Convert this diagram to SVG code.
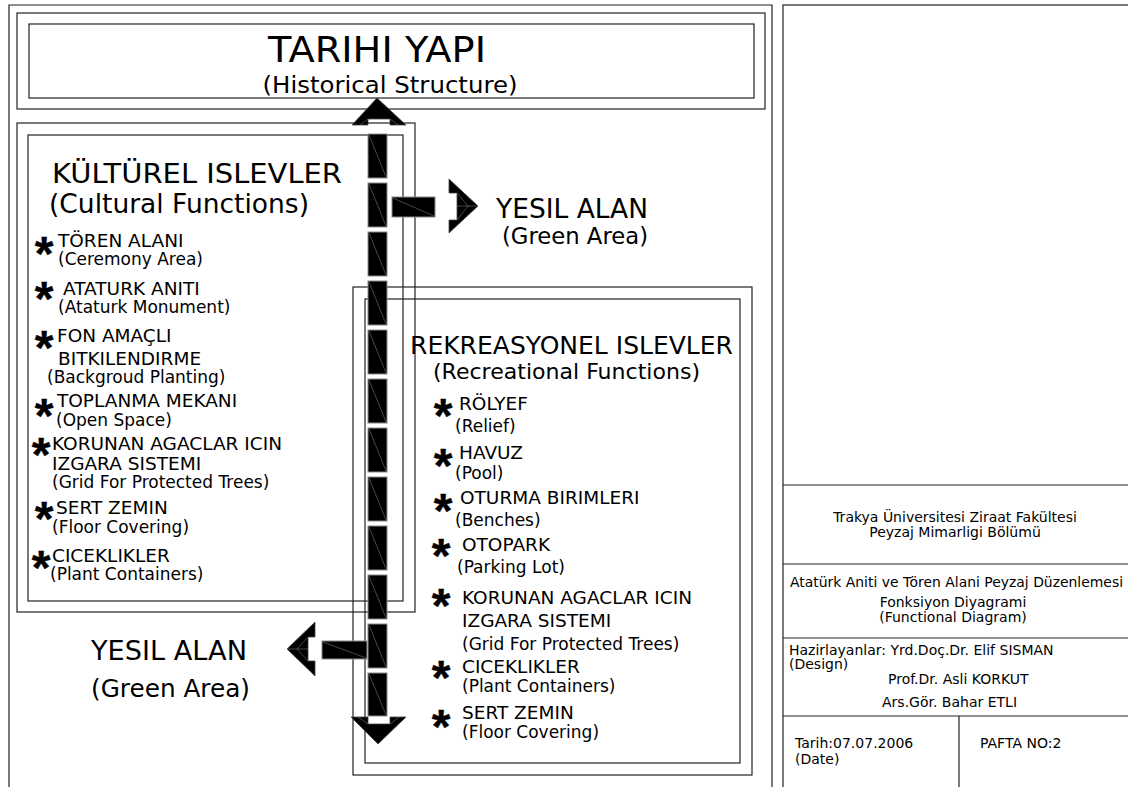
<svg xmlns="http://www.w3.org/2000/svg" width="1128" height="787" viewBox="0 0 1128 787">
<style>
.ln{fill:none;stroke:#222;stroke-width:1.2}
.t{font-family:"DejaVu Sans","Liberation Sans",sans-serif;fill:#000}
.it{font-size:18.5px}
.sb{font-size:17px}
.tb{font-size:14px}
.st{font-family:"Liberation Sans",Arial,sans-serif;font-weight:bold;font-size:48px;fill:#000;stroke:#000;stroke-width:0.4;text-anchor:middle}
.seg{fill:#000;stroke:#8a8a8a;stroke-width:1}
.dg{stroke:#777;stroke-width:0.6}
.ah{fill:#000;stroke:#444;stroke-width:0.8}
</style>
<rect width="1128" height="787" fill="#fff"/>
<g id="frame">
<polyline class="ln" points="9,787 9,5 772,5 772,787"/>
</g>
<g id="title-block">
<rect class="ln" x="783" y="5" width="360" height="800"/>
<line class="ln" x1="783" y1="485" x2="1128" y2="485"/>
<line class="ln" x1="783" y1="564" x2="1128" y2="564"/>
<line class="ln" x1="783" y1="638" x2="1128" y2="638"/>
<line class="ln" x1="783" y1="716" x2="1128" y2="716"/>
<line class="ln" x1="959" y1="716" x2="959" y2="787"/>
<text class="t tb" x="955" y="522" text-anchor="middle">Trakya Üniversitesi Ziraat Fakültesi</text>
<text class="t tb" x="955" y="537" text-anchor="middle">Peyzaj Mimarligi Bölümü</text>
<text class="t tb" x="790" y="587" textLength="333" lengthAdjust="spacingAndGlyphs">Atatürk Aniti ve Tören Alani Peyzaj Düzenlemesi</text>
<text class="t tb" x="953" y="607" text-anchor="middle">Fonksiyon Diyagrami</text>
<text class="t tb" x="953" y="622" text-anchor="middle">(Functional Diagram)</text>
<text class="t tb" x="789" y="655">Hazirlayanlar: Yrd.Doç.Dr. Elif SISMAN</text>
<text class="t tb" x="789" y="669">(Design)</text>
<text class="t tb" x="888" y="684">Prof.Dr. Asli KORKUT</text>
<text class="t tb" x="882" y="707">Ars.Gör. Bahar ETLI</text>
<text class="t tb" x="795" y="748">Tarih:07.07.2006</text>
<text class="t tb" x="795" y="764">(Date)</text>
<text class="t tb" x="980" y="748">PAFTA NO:2</text>
</g>
<g id="tarihi-yapi">
<rect class="ln" x="17" y="13" width="748" height="96"/>
<rect class="ln" x="29" y="24" width="725" height="74"/>
<text class="t" x="377" y="62" font-size="36" text-anchor="middle" textLength="218" lengthAdjust="spacingAndGlyphs">TARIHI YAPI</text>
<text class="t" x="390" y="93" font-size="23" text-anchor="middle" textLength="255" lengthAdjust="spacingAndGlyphs">(Historical Structure)</text>
</g>
<g id="kulturel-islevler">
<rect class="ln" x="17" y="123" width="398" height="489"/>
<rect class="ln" x="28" y="135" width="375" height="466"/>
<text class="t" x="52" y="183" font-size="26" textLength="290" lengthAdjust="spacingAndGlyphs">KÜLTÜREL ISLEVLER</text>
<text class="t" x="49" y="213" font-size="26" textLength="260" lengthAdjust="spacingAndGlyphs">(Cultural Functions)</text>
<text class="st" x="44" y="270">*</text>
<text class="t it" x="58" y="247">TÖREN ALANI</text>
<text class="t sb" x="58" y="265">(Ceremony Area)</text>
<text class="st" x="44" y="315">*</text>
<text class="t it" x="63" y="295">ATATURK ANITI</text>
<text class="t sb" x="58" y="313">(Ataturk Monument)</text>
<text class="st" x="44" y="364">*</text>
<text class="t it" x="57" y="342">FON AMAÇLI</text>
<text class="t it" x="58" y="365">BITKILENDIRME</text>
<text class="t sb" x="47" y="383">(Backgroud Planting)</text>
<text class="st" x="44" y="432">*</text>
<text class="t it" x="57" y="407">TOPLANMA MEKANI</text>
<text class="t sb" x="56" y="426">(Open Space)</text>
<text class="st" x="41" y="471">*</text>
<text class="t it" x="52" y="450">KORUNAN AGACLAR ICIN</text>
<text class="t it" x="52" y="470">IZGARA SISTEMI</text>
<text class="t sb" x="52" y="488">(Grid For Protected Trees)</text>
<text class="st" x="44" y="535">*</text>
<text class="t it" x="56" y="514">SERT ZEMIN</text>
<text class="t sb" x="52" y="533">(Floor Covering)</text>
<text class="st" x="41" y="584">*</text>
<text class="t it" x="52" y="562">CICEKLIKLER</text>
<text class="t sb" x="50" y="580">(Plant Containers)</text>
</g>
<g id="rekreasyonel-islevler">
<rect class="ln" x="353" y="287" width="399" height="488"/>
<rect class="ln" x="365" y="299" width="375" height="464"/>
<text class="t" x="410" y="354" font-size="25" textLength="323" lengthAdjust="spacingAndGlyphs">REKREASYONEL ISLEVLER</text>
<text class="t" x="433" y="379" font-size="22" textLength="267" lengthAdjust="spacingAndGlyphs">(Recreational Functions)</text>
<text class="st" x="443" y="432">*</text>
<text class="t it" x="459" y="410">RÖLYEF</text>
<text class="t sb" x="455" y="432">(Relief)</text>
<text class="st" x="443" y="482">*</text>
<text class="t it" x="459" y="459">HAVUZ</text>
<text class="t sb" x="455" y="479">(Pool)</text>
<text class="st" x="443" y="527">*</text>
<text class="t it" x="460" y="504">OTURMA BIRIMLERI</text>
<text class="t sb" x="455" y="526">(Benches)</text>
<text class="st" x="441" y="572">*</text>
<text class="t it" x="462" y="551">OTOPARK</text>
<text class="t sb" x="457" y="573">(Parking Lot)</text>
<text class="st" x="441" y="622">*</text>
<text class="t it" x="462" y="604">KORUNAN AGACLAR ICIN</text>
<text class="t it" x="462" y="627">IZGARA SISTEMI</text>
<text class="t sb" x="462" y="650">(Grid For Protected Trees)</text>
<text class="st" x="441" y="694">*</text>
<text class="t it" x="462" y="673">CICEKLIKLER</text>
<text class="t sb" x="462" y="692">(Plant Containers)</text>
<text class="st" x="441" y="743">*</text>
<text class="t it" x="462" y="719">SERT ZEMIN</text>
<text class="t sb" x="462" y="738">(Floor Covering)</text>
</g>
<g id="yesil-alan-top">
<text class="t" x="496" y="218" font-size="26" textLength="152" lengthAdjust="spacingAndGlyphs">YESIL ALAN</text>
<text class="t" x="502" y="244" font-size="23" textLength="146" lengthAdjust="spacingAndGlyphs">(Green Area)</text>
</g>
<g id="yesil-alan-bottom">
<text class="t" x="91" y="660" font-size="26" textLength="156" lengthAdjust="spacingAndGlyphs">YESIL ALAN</text>
<text class="t" x="91" y="697" font-size="24" textLength="159" lengthAdjust="spacingAndGlyphs">(Green Area)</text>
</g>
<g id="connectors">
<g id="main-axis">
<rect class="seg" x="368" y="134" width="19" height="44"/><line class="dg" x1="369" y1="135" x2="386" y2="177"/>
<rect class="seg" x="368" y="183" width="19" height="44"/><line class="dg" x1="369" y1="184" x2="386" y2="226"/>
<rect class="seg" x="368" y="232" width="19" height="44"/><line class="dg" x1="369" y1="233" x2="386" y2="275"/>
<rect class="seg" x="368" y="281" width="19" height="44"/><line class="dg" x1="369" y1="282" x2="386" y2="324"/>
<rect class="seg" x="368" y="330" width="19" height="44"/><line class="dg" x1="369" y1="331" x2="386" y2="373"/>
<rect class="seg" x="368" y="379" width="19" height="44"/><line class="dg" x1="369" y1="380" x2="386" y2="422"/>
<rect class="seg" x="368" y="428" width="19" height="44"/><line class="dg" x1="369" y1="429" x2="386" y2="471"/>
<rect class="seg" x="368" y="477" width="19" height="44"/><line class="dg" x1="369" y1="478" x2="386" y2="520"/>
<rect class="seg" x="368" y="526" width="19" height="44"/><line class="dg" x1="369" y1="527" x2="386" y2="569"/>
<rect class="seg" x="368" y="575" width="19" height="44"/><line class="dg" x1="369" y1="576" x2="386" y2="618"/>
<rect class="seg" x="368" y="624" width="19" height="44"/><line class="dg" x1="369" y1="625" x2="386" y2="667"/>
<rect class="seg" x="368" y="673" width="19" height="43"/><line class="dg" x1="369" y1="674" x2="386" y2="715"/>
<polygon class="ah" points="377,98 406,125 390,125 390,119 368,119 368,125 352,125"/>
<line class="dg" x1="368" y1="119" x2="360" y2="125"/><line class="dg" x1="390" y1="119" x2="398" y2="125"/>
<polygon class="ah" points="351,717 368,717 368,724 390,724 390,717 406,717 378,744"/>
<line class="dg" x1="368" y1="724" x2="358" y2="717"/><line class="dg" x1="390" y1="724" x2="399" y2="717"/>
</g>
<g id="arrow-right">
<rect class="seg" x="392" y="197" width="43" height="20"/><line class="dg" x1="393" y1="198" x2="434" y2="216"/>
<polygon class="ah" points="449,179 478,206 449,233 449,220 457,220 457,193 449,193"/>
<line class="dg" x1="457" y1="206" x2="478" y2="206"/><line class="dg" x1="457" y1="193" x2="468" y2="206"/><line class="dg" x1="457" y1="220" x2="468" y2="206"/>
</g>
<g id="arrow-left">
<rect class="seg" x="322" y="641" width="45" height="18"/><line class="dg" x1="323" y1="642" x2="366" y2="658"/>
<polygon class="ah" points="315,622 287,649 315,676 315,661 308,661 308,637 315,637"/>
<line class="dg" x1="287" y1="649" x2="308" y2="649"/><line class="dg" x1="308" y1="637" x2="297" y2="649"/><line class="dg" x1="308" y1="661" x2="297" y2="649"/>
</g>
</g>
</svg>
